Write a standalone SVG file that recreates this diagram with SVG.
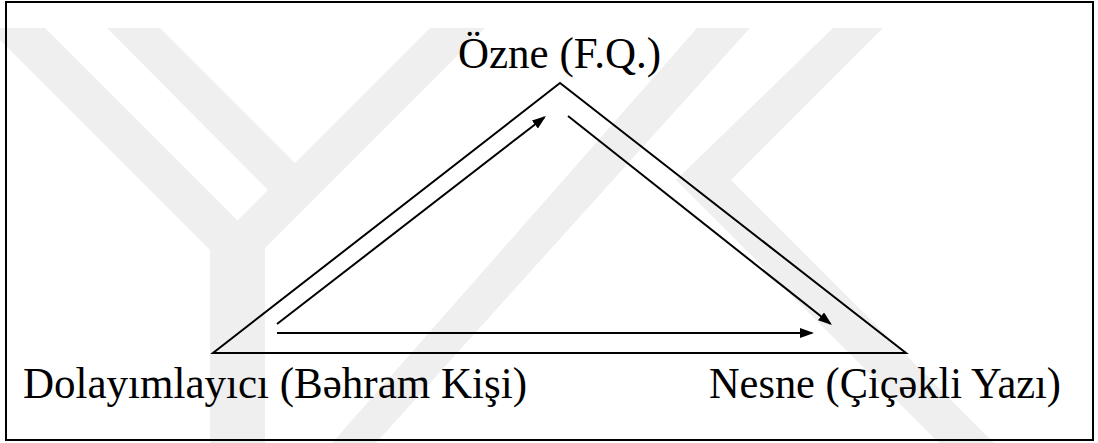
<svg xmlns="http://www.w3.org/2000/svg" width="1098" height="443" viewBox="0 0 1098 443">
  <style>
    .wm { fill: #efefef; }
    .frame { fill: none; stroke: #000; stroke-width: 2; }
    .edge { fill: none; stroke: #000; stroke-width: 2; stroke-linejoin: miter; }
    .flow { fill: none; stroke: #000; stroke-width: 2; }
    .label { font-family: "Liberation Serif", "Times New Roman", serif; font-size: 44px; fill: #000; }
  </style>
  <defs>
    <marker id="head" viewBox="0 0 14 10" refX="12" refY="5" markerWidth="14" markerHeight="10" markerUnits="userSpaceOnUse" orient="auto">
      <path d="M0,0 L14,5 L0,10 z" fill="#000"/>
    </marker>
    <clipPath id="page">
      <rect x="0" y="28" width="1098" height="415"/>
    </clipPath>
  </defs>

  <rect width="1098" height="443" fill="#fff"/>

  <!-- light background emblem -->
  <g id="emblem" class="wm" clip-path="url(#page)">
    <polygon points="-12,28 45,28 237.5,220.5 430,28 485,28 265,248 265,443 210,443 210,250"/>
    <polygon points="107,28 160,28 300,168 273,195"/>
    <polygon points="697,28 750,28 376,443 332,443"/>
    <polygon points="833,28 883,28 731,180 1000,449 945,449 700,204 676,180"/>
  </g>

  <!-- outer frame -->
  <rect x="6" y="2" width="1087" height="438" class="frame"/>

  <!-- triangle -->
  <g id="triangle">
    <polygon class="edge" points="560,83 213,353 906,353"/>
  </g>

  <!-- flow arrows -->
  <g id="connectors">
    <line class="flow" x1="277" y1="324" x2="544.4" y2="117.2" marker-end="url(#head)"/>
    <line class="flow" x1="568" y1="116" x2="830.4" y2="323.8" marker-end="url(#head)"/>
    <line class="flow" x1="277" y1="333" x2="812" y2="333" marker-end="url(#head)"/>
  </g>

  <g id="node-ozne">
    <text class="label" x="458" y="68" textLength="203" lengthAdjust="spacingAndGlyphs">Özne (F.Q.)</text>
  </g>
  <g id="node-dolayimlayici">
    <text class="label" x="23" y="398" textLength="504" lengthAdjust="spacingAndGlyphs">Dolayımlayıcı (Bəhram Kişi)</text>
  </g>
  <g id="node-nesne">
    <text class="label" x="709" y="398" textLength="352" lengthAdjust="spacingAndGlyphs">Nesne (Çiçəkli Yazı)</text>
  </g>
</svg>
